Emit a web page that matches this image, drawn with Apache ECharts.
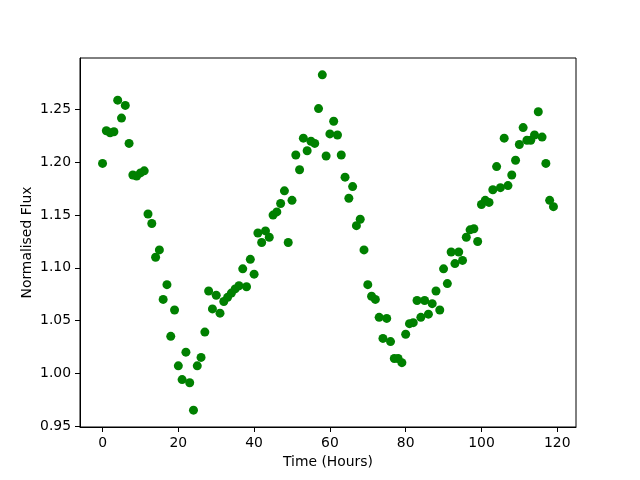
<!DOCTYPE html>
<html>

<head>
    <meta charset="utf-8">
    <script src="https://cdn.jsdelivr.net/npm/echarts@6/dist/echarts.min.js"></script>
    <style type="text/css">
        body {
            margin: 0;
        }

        #main {
            width: 640px;
            height: 480px;
        }
    </style>
</head>

<body>
    <div id="main"></div>
    <script>
        // 时间（小时）
        var hours = [
            0, 1, 2, 3, 4, 5, 6, 7, 8, 9, 10, 11, 12, 13, 14, 15, 16, 17, 18, 19,
            20, 21, 22, 23, 24, 25, 26, 27, 28, 29, 30, 31, 32, 33, 34, 35, 36, 37, 38, 39,
            40, 41, 42, 43, 44, 45, 46, 47, 48, 49, 50, 51, 52, 53, 54, 55, 56, 57, 58, 59,
            60, 61, 62, 63, 64, 65, 66, 67, 68, 69, 70, 71, 72, 73, 74, 75, 76, 77, 78, 79,
            80, 81, 82, 83, 84, 85, 86, 87, 88, 89, 90, 91, 92, 93, 94, 95, 96, 97, 98, 99,
            100, 101, 102, 103, 104, 105, 106, 107, 108, 109, 110, 111, 112, 113, 114, 115, 116, 117, 118, 119
        ];
        // 归一化流量
        var flux = [
            1.199, 1.230, 1.228, 1.229, 1.259, 1.242, 1.254, 1.218, 1.188, 1.187,
            1.190, 1.192, 1.151, 1.142, 1.110, 1.117, 1.070, 1.084, 1.035, 1.060,
            1.007, 0.994, 1.020, 0.991, 0.965, 1.007, 1.015, 1.039, 1.078, 1.061,
            1.074, 1.057, 1.068, 1.072, 1.076, 1.080, 1.083, 1.099, 1.082, 1.108,
            1.094, 1.133, 1.124, 1.135, 1.129, 1.150, 1.153, 1.161, 1.173, 1.124,
            1.164, 1.207, 1.193, 1.223, 1.211, 1.220, 1.218, 1.251, 1.283, 1.206,
            1.227, 1.239, 1.226, 1.207, 1.186, 1.166, 1.177, 1.140, 1.146, 1.117,
            1.084, 1.073, 1.070, 1.053, 1.033, 1.052, 1.030, 1.014, 1.014, 1.010,
            1.037, 1.047, 1.048, 1.069, 1.053, 1.069, 1.056, 1.066, 1.078, 1.060,
            1.099, 1.085, 1.115, 1.104, 1.115, 1.107, 1.129, 1.136, 1.137, 1.125,
            1.160, 1.164, 1.162, 1.174, 1.196, 1.176, 1.223, 1.178, 1.188, 1.202,
            1.217, 1.233, 1.221, 1.221, 1.226, 1.248, 1.224, 1.199, 1.164, 1.158
        ];
        var xTicks = [0, 20, 40, 60, 80, 100, 120];
        var yTicks = [0.95, 1.00, 1.05, 1.10, 1.15, 1.20, 1.25];

        var points = [];
        for (var i = 0; i < hours.length; i++) {
            points.push([hours[i], flux[i]]);
        }

        var font = 'DejaVu Sans';
        var myChart = echarts.init(document.getElementById('main'));
        var option = {
            animation: false,
            backgroundColor: '#ffffff',
            grid: {
                left: 80,
                right: 64,
                top: 58,
                bottom: 53,
                show: true,
                borderColor: '#000',
                borderWidth: 1
            },
            xAxis: {
                type: 'value',
                min: -5.95,
                max: 124.95,
                name: 'Time (Hours)',
                nameLocation: 'middle',
                nameGap: 28,
                nameMoveOverlap: false,
                nameTextStyle: { color: '#000', fontFamily: font, fontSize: 13.9 },
                axisLine: { onZero: false, lineStyle: { color: '#000', width: 1 } },
                axisTick: { customValues: xTicks, length: 5, lineStyle: { color: '#000' } },
                axisLabel: { customValues: xTicks, margin: 9, color: '#000', fontFamily: font, fontSize: 13.9 },
                splitLine: { show: false }
            },
            yAxis: {
                type: 'value',
                min: 0.949,
                max: 1.299,
                name: 'Normalised Flux',
                nameLocation: 'middle',
                nameGap: 46,
                nameMoveOverlap: false,
                nameTextStyle: { color: '#000', fontFamily: font, fontSize: 13.9 },
                axisLine: { show: true, onZero: false, lineStyle: { color: '#000', width: 1 } },
                axisTick: { show: true, customValues: yTicks, length: 5, lineStyle: { color: '#000' } },
                axisLabel: {
                    customValues: yTicks,
                    margin: 9,
                    color: '#000',
                    fontFamily: font,
                    fontSize: 13.9,
                    formatter: function (v) { return v.toFixed(2); }
                },
                splitLine: { show: false }
            },
            series: [{
                type: 'scatter',
                data: points,
                symbolSize: 9,
                itemStyle: { color: '#008000', opacity: 1 }
            }]
        };
        myChart.setOption(option);
    </script>
</body>

</html>
